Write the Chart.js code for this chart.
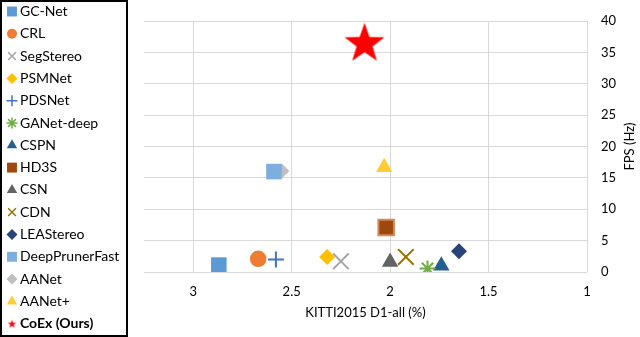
<!DOCTYPE html>
<html>
<head>
<meta charset="utf-8">
<script src="https://cdn.jsdelivr.net/npm/chart.js@4"></script>
<style>
  html, body { margin: 0; padding: 0; background: #fff; }
  #wrap { width: 640px; height: 337px; position: relative; }
</style>
</head>
<body>
<div id="wrap"><canvas id="chartOne"></canvas></div>
<script>
const methods = ['GC-Net', 'CRL', 'SegStereo', 'PSMNet', 'PDSNet', 'GANet-deep', 'CSPN', 'HD3S',
  'CSN', 'CDN', 'LEAStereo', 'DeepPrunerFast', 'AANet', 'AANet+', 'CoEx (Ours)'];
const d1All = [2.87, 2.67, 2.25, 2.32, 2.58, 1.81, 1.74, 2.02, 2.00, 1.92, 1.65, 2.59, 2.55, 2.03, 2.13];
const fps = [1.1, 2.1, 1.7, 2.4, 2.0, 0.56, 1.0, 7.1, 1.6, 2.4, 3.3, 16.0, 16.1, 16.7, 36.7];
const xTicks = [1, 1.5, 2, 2.5, 3];

// marker looks
const colors = ['#5B9BD5', '#ED7D31', '#A5A5A5', '#FFC000', '#4472C4', '#70AD47', '#255E91', '#9E480E',
  '#636363', '#997300', '#264478', '#7CAFDD', '#BFBFBF', '#FFCD33', '#FF0000'];
const shapes = ['rect', 'circle', 'crossRot', 'rectRot', 'cross', 'star', 'triangle', 'rect',
  'triangle', 'crossRot', 'rectRot', 'rect', 'rectRot', 'triangle', 'bigstar'];
const sizes = [11, 8.3, 11, 8, 8, 8, 9.5, 11, 9.5, 11, 8, 11, 7.5, 9.5, 21];

function starCanvas(r, color) {
  const c = document.createElement('canvas');
  c.width = Math.ceil(r * 2 + 2);
  c.height = Math.ceil(r * 2 + 2);
  const g = c.getContext('2d');
  g.fillStyle = color;
  g.beginPath();
  for (let i = 0; i < 10; i++) {
    const rr = i % 2 == 0 ? r : r * 0.4;
    const a = -Math.PI / 2 + i * Math.PI / 5;
    const px = c.width / 2 + rr * Math.cos(a);
    const py = c.height / 2 + r * 0.1 + rr * Math.sin(a);
    if (i == 0) g.moveTo(px, py); else g.lineTo(px, py);
  }
  g.closePath();
  g.fill();
  return c;
}
const bigStar = starCanvas(21, '#FF0000');
const smallStar = starCanvas(4.5, '#FF0000');

function pointStyleOf(i, legend) {
  if (shapes[i] == 'bigstar') return legend ? smallStar : bigStar;
  return shapes[i];
}

const lineShapes = ['cross', 'crossRot', 'star'];

const datasets = methods.map((m, i) => ({
  label: m,
  data: [{ x: d1All[i], y: fps[i] }],
  pointStyle: pointStyleOf(i, false),
  pointRadius: sizes[i],
  pointHoverRadius: sizes[i],
  backgroundColor: colors[i],
  borderColor: m == 'HD3S' ? '#D08A5A' : (m == 'GC-Net' ? '#6FA8DC' : colors[i]),
  borderWidth: lineShapes.includes(shapes[i]) ? 2 : (m == 'HD3S' ? 2 : 0)
}));

// legend box drawn by hand so the last entry can be bold
const boxLegend = {
  id: 'boxLegend',
  afterDraw(chart) {
    const ctx = chart.ctx;
    ctx.save();
    ctx.strokeStyle = '#000';
    ctx.lineWidth = 2;
    ctx.strokeRect(1, 1, 126, 335);
    chart.data.datasets.forEach((ds, i) => {
      const y = 11.5 + i * 22.3;
      const isLine = lineShapes.includes(shapes[i]);
      ctx.fillStyle = ds.backgroundColor;
      ctx.strokeStyle = isLine ? ds.backgroundColor : ds.borderColor;
      ctx.lineWidth = isLine ? 1.5 : 0;
      Chart.helpers.drawPoint(ctx, {
        pointStyle: pointStyleOf(i, true),
        radius: isLine ? 5.5 : (shapes[i] == 'circle' ? 5 : (shapes[i] == 'triangle' ? 6 : (shapes[i] == 'rectRot' ? 5.5 : 7))),
        borderWidth: isLine ? 1.5 : 0,
        rotation: 0
      }, 12, y);
      ctx.fillStyle = '#000';
      ctx.font = (i == methods.length - 1 ? 'bold ' : '') + '14px Lato';
      ctx.textBaseline = 'middle';
      ctx.textAlign = 'left';
      ctx.fillText(ds.label, 20, y);
    });
    ctx.restore();
  },
  beforeDraw(chart) {
    // y axis title, reading bottom to top
    const ctx = chart.ctx;
    const a = chart.chartArea;
    ctx.save();
    ctx.translate(630, (a.top + a.bottom) / 2);
    ctx.rotate(-Math.PI / 2);
    ctx.fillStyle = '#000';
    ctx.font = '13px Lato';
    ctx.textAlign = 'center';
    ctx.textBaseline = 'middle';
    ctx.fillText('FPS (Hz)', 0, 0);
    ctx.restore();
  }
};

const firstChart = document.getElementById('chartOne').getContext('2d');
const scatterOne = new Chart(firstChart, {
  type: 'scatter',
  data: { datasets: datasets },
  options: {
    responsive: true,
    maintainAspectRatio: false,
    animation: false,
    layout: { padding: { left: 144, top: 7, right: 0, bottom: 0 } },
    plugins: {
      legend: { display: false },
      tooltip: { enabled: false }
    },
    scales: {
      x: {
        type: 'linear',
        reverse: true,
        min: 1,
        max: 3.25,
        afterBuildTicks: s => { s.ticks = xTicks.map(v => ({ value: v })); },
        afterFit: s => { s.height = 65; },
        grid: { color: '#D9D9D9', drawTicks: false },
        border: { display: false },
        ticks: { color: '#000', font: { family: 'Lato', size: 13 }, padding: 12, callback: v => String(v) },
        title: { display: true, text: 'KITTI2015 D1-all (%)', color: '#000', font: { family: 'Lato', size: 13 }, padding: { top: 0, bottom: 16 } }
      },
      y: {
        type: 'linear',
        position: 'right',
        min: 0,
        max: 40,
        ticks: { stepSize: 5, color: '#000', font: { family: 'Lato', size: 13 }, padding: 14 },
        grid: { color: '#D9D9D9', drawTicks: false },
        border: { display: false },
        afterFit: s => { s.width = 53; s.paddingTop = 0; s.paddingBottom = 0; }
      }
    }
  },
  plugins: [boxLegend]
});

// nudge the top padding until the plot top sits where the reference has it
for (let k = 0; k < 3; k++) {
  const d = scatterOne.chartArea.top - 14.7;
  if (Math.abs(d) < 0.3) break;
  scatterOne.options.layout.padding.top -= d;
  scatterOne.update();
}
</script>
</body>
</html>
